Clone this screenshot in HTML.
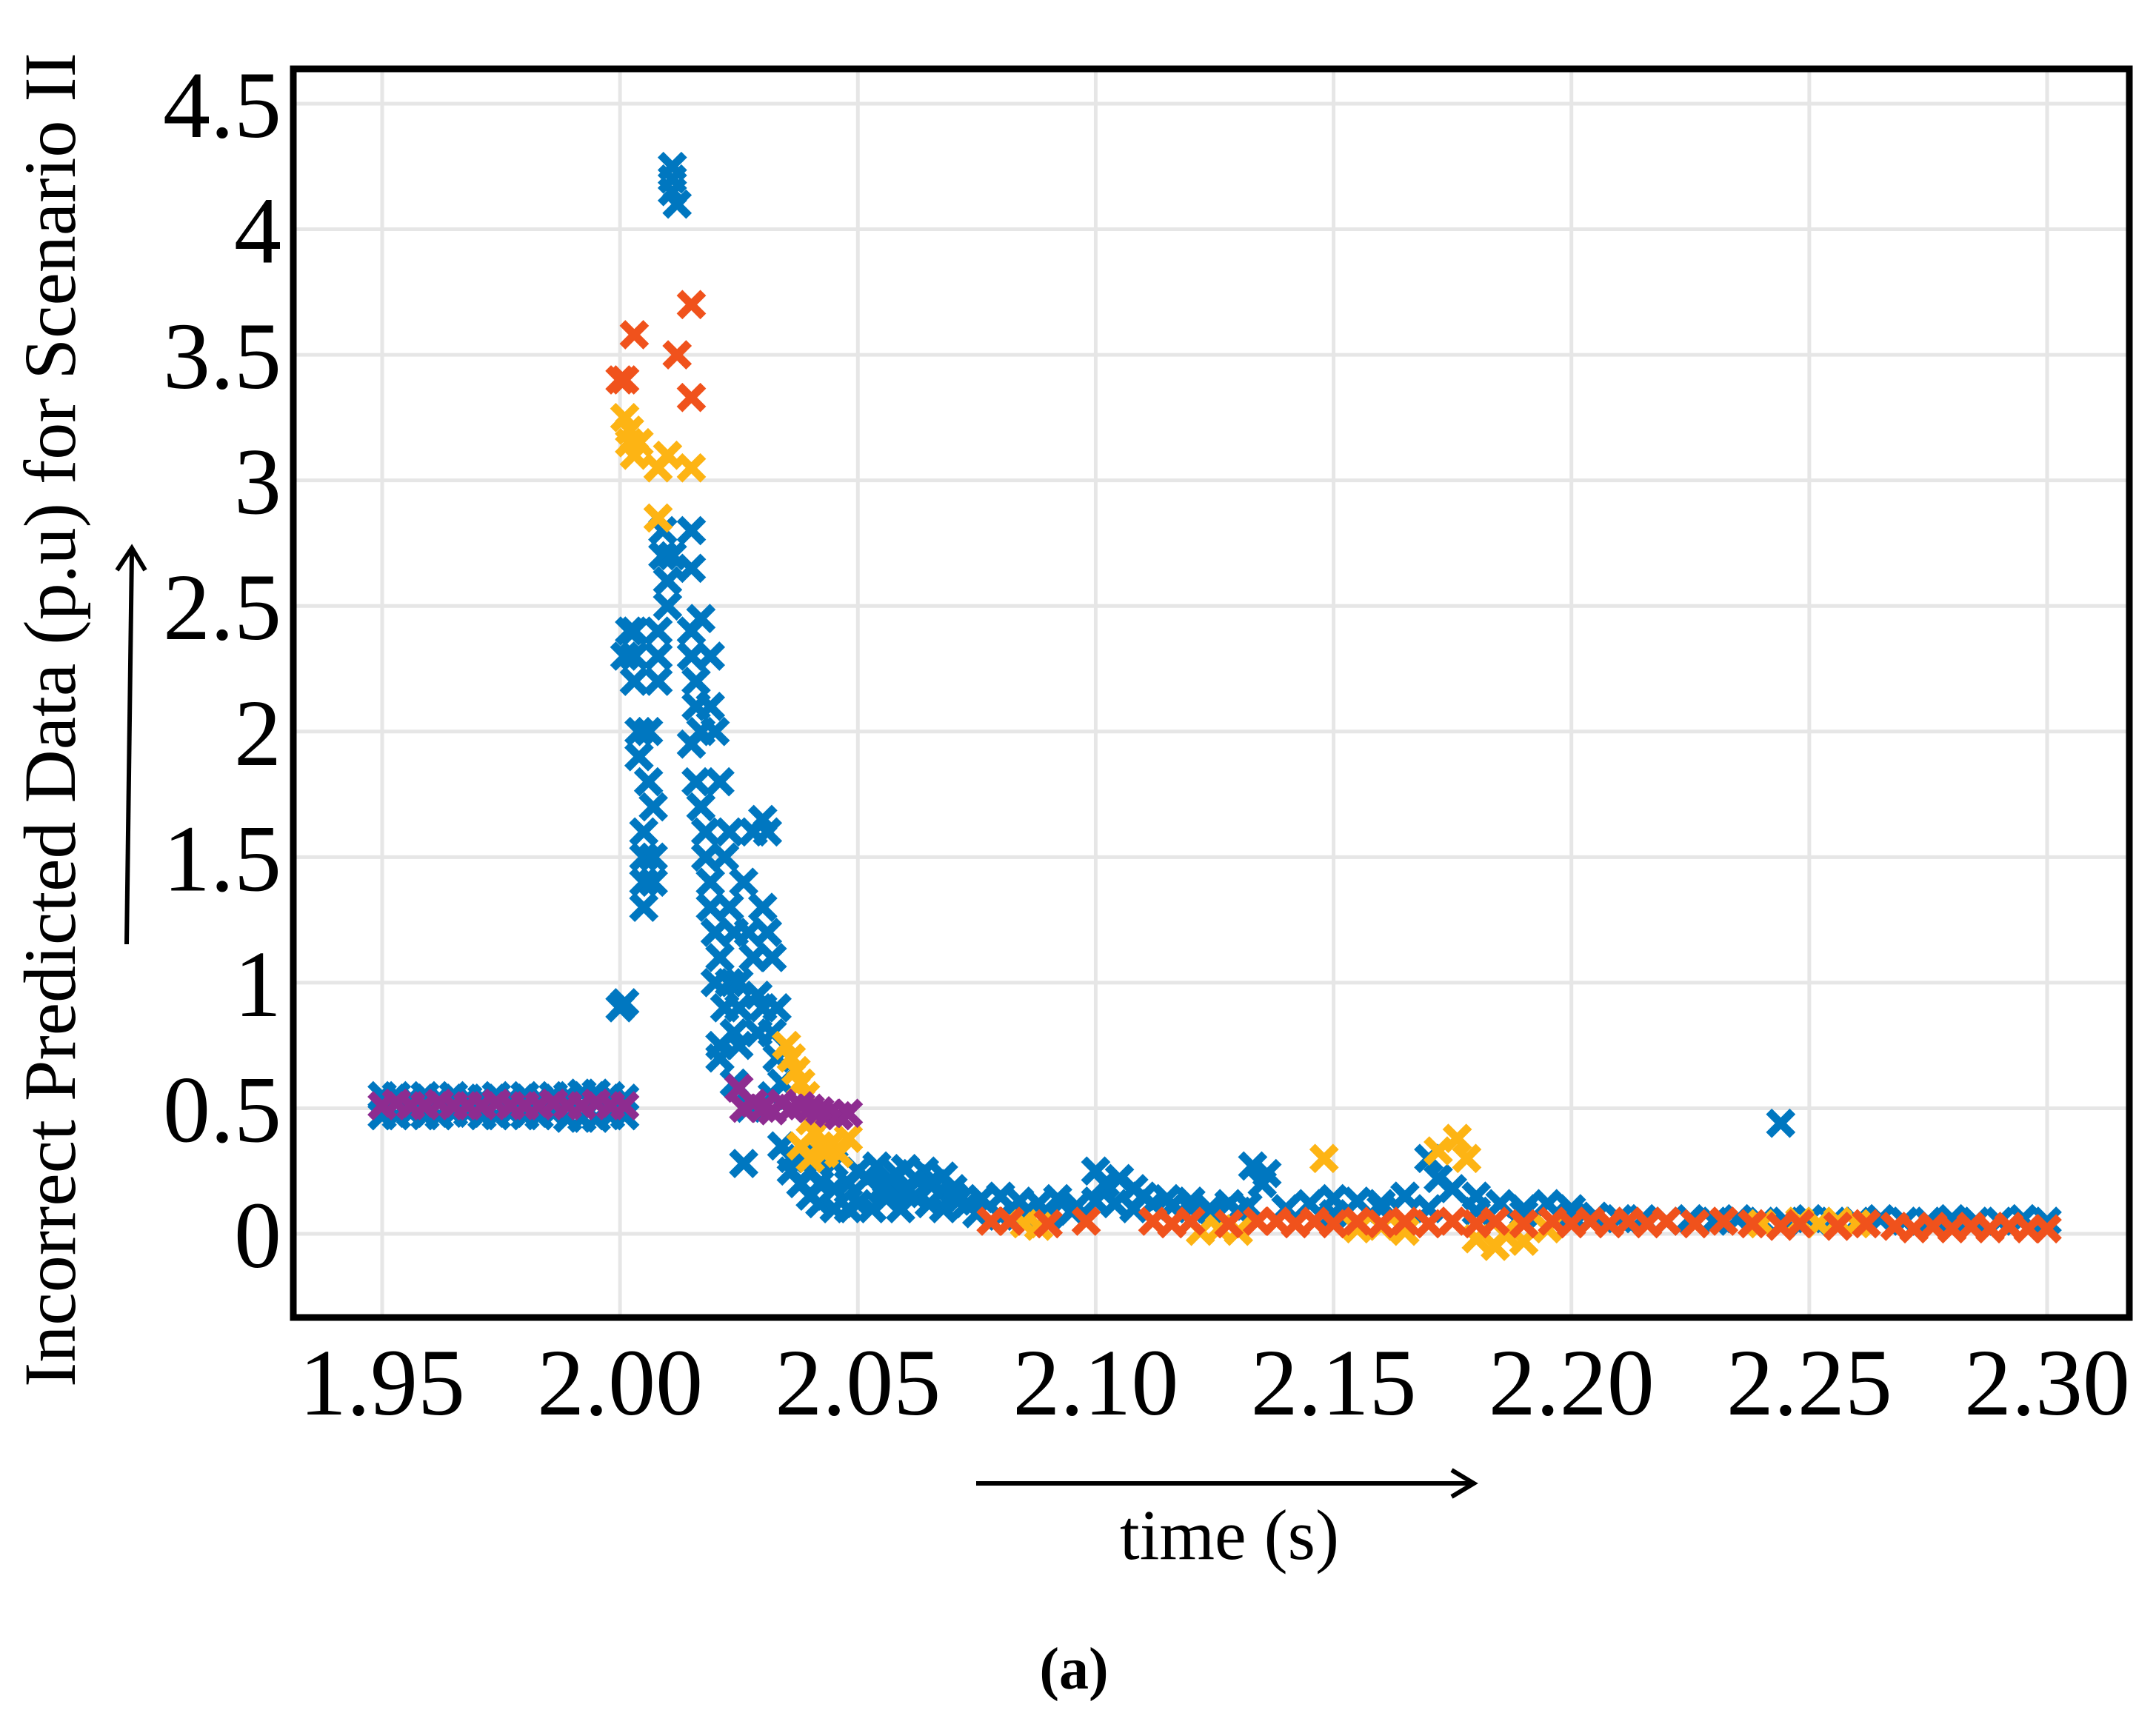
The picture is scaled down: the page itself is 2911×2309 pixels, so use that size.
<!DOCTYPE html>
<html><head><meta charset="utf-8">
<style>
html,body{margin:0;padding:0;background:#fff;}
svg{display:block;}
text{font-family:"Liberation Serif",serif;fill:#000;}
</style></head>
<body>
<svg id="chart" width="2911" height="2309" viewBox="0 0 2911 2309">
<g id="grid"></g>
<g id="marks"></g>
<rect x="396" y="93" width="2479" height="1686" fill="none" stroke="#000" stroke-width="9"/>
<g id="ticks"></g>
<text x="78" y="972" font-size="100" text-anchor="middle" transform="rotate(-90 78 972)" dominant-baseline="middle">Incorrect Predicted Data (p.u) for Scenario II</text>
<line x1="171" y1="1275" x2="178" y2="745" stroke="#000" stroke-width="6"/>
<path d="M158 770 L178 740 L196 770" fill="none" stroke="#000" stroke-width="6"/>
<line x1="1318" y1="2003" x2="1985" y2="2003" stroke="#000" stroke-width="6"/>
<path d="M1960 1985 L1990 2003 L1960 2021" fill="none" stroke="#000" stroke-width="6"/>
<text x="1660" y="2105" font-size="96" text-anchor="middle">time (s)</text>
<text x="1450" y="2280" font-size="80" font-weight="bold" text-anchor="middle">(a)</text>
</svg>
<script>
const xTicks = [1.95,2.00,2.05,2.10,2.15,2.20,2.25,2.30];
const xTickLabels = ["1.95","2.00","2.05","2.10","2.15","2.20","2.25","2.30"];
const yTicks = [0,0.5,1,1.5,2,2.5,3,3.5,4,4.5];
const yTickLabels = ["0","0.5","1","1.5","2","2.5","3","3.5","4","4.5"];

const blueX = [1.950,1.953,1.956,1.959,1.962,1.965,1.968,1.971,1.974,1.977,1.980,1.983,1.986,1.989,1.992,1.995,1.998,2.001,
 1.950,1.953,1.956,1.959,1.962,1.965,1.968,1.971,1.974,1.977,1.980,1.983,1.986,1.989,1.992,1.995,1.998,2.001,
 2.000,2.001,2.001,2.002,2.003,2.003,2.003,2.004,2.004,2.005,2.005,2.005,2.005,2.006,2.006,2.007,2.007,2.007,2.008,2.008,2.008,
 2.009,2.009,2.010,2.010,2.011,2.011,2.011,2.011,2.012,2.015,2.015,2.015,2.015,2.015,2.016,2.016,2.016,2.017,2.017,2.017,
 2.018,2.018,2.019,2.019,2.019,2.019,2.020,2.020,2.020,2.021,2.021,2.021,2.021,2.022,2.022,2.023,2.023,2.023,2.024,2.024,2.024,
 2.025,2.025,2.025,2.026,2.026,2.027,2.027,2.028,2.028,2.029,2.029,2.030,2.030,2.030,2.031,2.031,2.032,2.032,2.032,2.033,2.033,
 2.034,2.034,2.036,2.036,2.038,2.038,2.040,2.040,2.042,2.042,2.042,2.045,2.045,2.045,2.048,2.048,
 2.050,2.052,2.054,2.056,2.058,2.060,2.062,2.064,2.066,2.068,2.070,2.050,2.053,2.056,2.059,2.062,2.065,2.068,2.071,
 2.055,2.060,2.065,2.070,2.073,2.076,2.080,2.084,2.088,2.092,2.096,2.100,2.104,2.108,2.112,2.116,2.120,2.124,2.128,2.132,
 2.075,2.080,2.085,2.090,2.095,2.100,2.102,2.105,2.108,2.110,2.115,2.120,2.125,2.130,2.133,2.135,2.140,2.145,2.150,2.155,
 2.160,2.165,2.170,2.172,2.175,2.180,2.185,2.190,2.195,2.200,2.205,2.210,2.136,2.140,2.150,2.160,2.170,2.180,2.190,2.200,
 2.215,2.220,2.225,2.230,2.235,2.240,2.245,2.250,2.255,2.260,2.265,2.270,2.275,2.280,2.285,2.290,2.295,2.300,2.244];
const blueY = [0.55,0.55,0.54,0.55,0.54,0.55,0.54,0.54,0.55,0.54,0.55,0.54,0.55,0.55,0.56,0.56,0.55,0.54,
 0.47,0.47,0.48,0.47,0.47,0.48,0.48,0.47,0.47,0.48,0.47,0.47,0.48,0.46,0.46,0.46,0.47,0.47,
 0.9,0.92,2.3,2.4,2.4,2.3,2.2,2.0,1.9,1.6,1.5,1.4,1.3,1.8,2.0,1.7,1.5,1.4,2.2,2.4,2.3,
 2.8,2.7,2.6,2.5,4.25,4.15,4.2,2.7,4.1,2.8,2.65,2.4,2.3,1.95,2.2,2.1,1.8,2.45,2.0,1.7,
 1.6,1.5,2.3,2.1,1.4,1.3,2.0,1.2,1.0,1.8,0.75,0.7,1.1,0.9,1.5,1.6,1.3,1.0,0.8,0.6,1.2,
 1.0,0.9,0.75,1.4,0.28,1.2,0.5,1.1,1.6,0.95,0.8,1.65,1.3,0.9,1.6,1.2,1.1,0.8,0.55,0.9,0.7,
 0.35,0.6,0.3,0.25,0.2,0.3,0.15,0.25,0.12,0.2,0.3,0.1,0.18,0.28,0.1,0.2,
 0.25,0.22,0.27,0.2,0.24,0.26,0.22,0.25,0.2,0.23,0.18,0.12,0.1,0.14,0.1,0.15,0.12,0.1,0.13,
 0.18,0.16,0.2,0.15,0.12,0.14,0.15,0.13,0.12,0.14,0.11,0.13,0.12,0.1,0.12,0.11,0.13,0.1,0.12,0.11,
 0.08,0.07,0.08,0.07,0.09,0.25,0.2,0.22,0.18,0.15,0.14,0.1,0.08,0.09,0.27,0.2,0.1,0.12,0.14,0.13,
 0.12,0.15,0.3,0.22,0.18,0.15,0.12,0.1,0.12,0.1,0.07,0.06,0.24,0.1,0.08,0.1,0.1,0.09,0.08,0.07,
 0.06,0.05,0.06,0.05,0.06,0.05,0.05,0.06,0.05,0.05,0.06,0.05,0.05,0.06,0.05,0.05,0.06,0.05,0.44];

const orangeX = [2.000,2.001,2.003,2.012,2.015,2.015,
 2.078,2.082,2.090,2.098,2.112,2.116,2.120,2.128,2.134,2.138,2.142,2.146,2.150,2.155,2.160,2.165,2.170,2.175,2.180,2.184,
 2.190,2.196,2.200,2.204,2.208,2.212,2.216,2.220,2.226,2.232,2.238,2.244,2.248,2.256,2.262,2.268,2.272,2.276,2.280,2.284,2.288,2.292,2.296,2.300];
const orangeY = [3.4,3.4,3.58,3.5,3.7,3.33,
 0.05,0.05,0.04,0.05,0.05,0.04,0.05,0.04,0.05,0.05,0.04,0.05,0.04,0.05,0.04,0.05,0.04,0.05,0.04,0.05,
 0.04,0.05,0.04,0.05,0.04,0.05,0.04,0.05,0.04,0.05,0.04,0.03,0.04,0.03,0.04,0.03,0.02,0.03,0.02,0.03,0.02,0.03,0.02,0.02];

const yellowX = [2.001,2.002,2.002,2.003,2.004,2.008,2.008,2.010,2.015,
 2.035,2.036,2.037,2.038,2.039,2.040,2.041,2.042,2.043,2.044,2.046,2.048,2.038,2.040,
 2.085,2.088,2.122,2.126,2.130,2.148,2.155,2.160,2.165,2.172,2.176,2.178,2.180,2.184,2.186,2.190,2.195,
 2.240,2.248,2.252,2.256,2.260];
const yellowY = [3.25,3.2,3.15,3.1,3.15,2.85,3.05,3.1,3.05,
 0.75,0.7,0.65,0.6,0.55,0.45,0.4,0.35,0.32,0.35,0.32,0.38,0.35,0.3,
 0.04,0.03,0.01,0.02,0.01,0.3,0.02,0.03,0.01,0.33,0.38,0.3,-0.02,-0.05,0.0,-0.03,0.02,
 0.04,0.05,0.04,0.05,0.04];

const purpleX = [1.950,1.953,1.956,1.959,1.962,1.965,1.968,1.971,1.974,1.977,1.980,1.983,1.986,1.989,1.992,1.995,1.998,2.001,
 2.025,2.026,2.028,2.030,2.032,2.034,2.036,2.038,2.040,2.042,2.044,2.046,2.048];
const purpleY = [0.51,0.52,0.51,0.51,0.52,0.51,0.51,0.51,0.52,0.51,0.51,0.51,0.52,0.51,0.51,0.52,0.51,0.51,
 0.58,0.5,0.52,0.5,0.49,0.52,0.5,0.51,0.5,0.49,0.48,0.47,0.48];

const X0=516, X1=2764, Y0=1666, Y1=140;
function sx(v){return X0+(v-1.95)/(2.30-1.95)*(X1-X0);}
function sy(v){return Y0-(v/4.5)*(Y0-Y1);}
const NS="http://www.w3.org/2000/svg";
const grid=document.getElementById('grid'), ticks=document.getElementById('ticks'), marks=document.getElementById('marks');
xTicks.forEach((t,i)=>{
  const l=document.createElementNS(NS,'line');
  l.setAttribute('x1',sx(t));l.setAttribute('x2',sx(t));l.setAttribute('y1',93);l.setAttribute('y2',1779);
  l.setAttribute('stroke','#e6e6e6');l.setAttribute('stroke-width','5');
  
  
  grid.appendChild(l);
  const tx=document.createElementNS(NS,'text');
  tx.setAttribute('x',sx(t));tx.setAttribute('y',1910);tx.setAttribute('font-size','128');tx.setAttribute('text-anchor','middle');
  tx.textContent=xTickLabels[i];
  
  
  ticks.appendChild(tx);
});
yTicks.forEach((t,i)=>{
  const l=document.createElementNS(NS,'line');
  l.setAttribute('x1',396);l.setAttribute('x2',2875);l.setAttribute('y1',sy(t));l.setAttribute('y2',sy(t));
  l.setAttribute('stroke','#e6e6e6');l.setAttribute('stroke-width','5');
  
  
  grid.appendChild(l);
  const tx=document.createElementNS(NS,'text');
  tx.setAttribute('x',380);tx.setAttribute('y',sy(t)+45);tx.setAttribute('font-size','128');tx.setAttribute('text-anchor','end');
  tx.textContent=yTickLabels[i];
  
  
  ticks.appendChild(tx);
});
function drawSeries(xs,ys,color,name){
  const g=document.createElementNS(NS,'g');
  
  
  xs.forEach((x,i)=>{
    const cx=sx(x), cy=sy(ys[i]), r=16;
    const p=document.createElementNS(NS,'path');
    p.setAttribute('d',`M${cx-r} ${cy-r}L${cx+r} ${cy+r}M${cx-r} ${cy+r}L${cx+r} ${cy-r}`);
    p.setAttribute('stroke',color);p.setAttribute('stroke-width','11');
    
    
    g.appendChild(p);
  });
  marks.appendChild(g);
}
drawSeries(blueX,blueY,'#0077C0','series-blue');
drawSeries(yellowX,yellowY,'#FDB414','series-yellow');
drawSeries(orangeX,orangeY,'#F0521C','series-orange');
drawSeries(purpleX,purpleY,'#8E2C90','series-purple');
</script>
</body></html>
